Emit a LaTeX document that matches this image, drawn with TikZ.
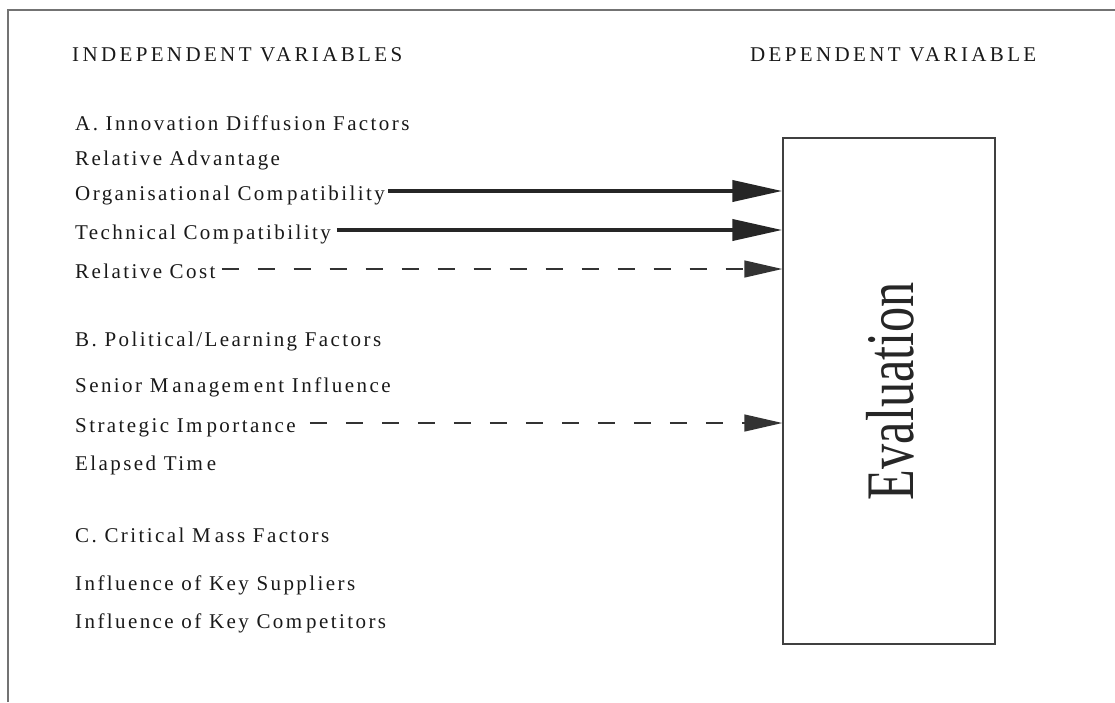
\documentclass[tikz,border=0pt]{standalone}
\usepackage{graphicx}
\usepackage{fontspec}
\setmainfont{Liberation Serif}
\newfontfamily\bodyfont[LetterSpace=11.5]{Liberation Serif}
\newfontfamily\headfont[LetterSpace=16]{Liberation Serif}
\usetikzlibrary{arrows.meta}
\newcommand{\gm}{\kern4pt}
\begin{document}
\begin{tikzpicture}[x=1pt,y=-1pt,
  lbl/.style={anchor=base west, inner sep=0pt, text=black!90,
    font=\bodyfont\fontsize{21}{25}\selectfont, text height=14pt, text depth=4pt},
  hdr/.style={anchor=base west, inner sep=0pt, text=black!90,
    font=\headfont\fontsize{21}{25}\selectfont},
  solidarr/.style={line width=4pt, draw=black!85, -{Triangle[length=50pt,width=21pt]}},
  dasharr/.style={line width=1.5pt, draw=black!80, dash pattern=on 17pt off 19pt,
    -{Triangle[length=38pt,width=17pt]}},
  frame/.style={draw=black!55, line width=1.2pt},
  evalbox/.style={draw=black!75, line width=1.5pt, inner sep=0pt,
    minimum width=212pt, minimum height=506pt}
]
\useasboundingbox (0,0) rectangle (1115,702);
\draw[frame] (8,702) -- (8,10) -- (1115,10);

\node[hdr] (hIndep) at (72,61) {INDEPENDENT VARIABLES};
\node[hdr] (hDep) at (750,61) {DEPENDENT VARIABLE};

\node[lbl] (a)   at (75,130) {A. Innovation Diffusion Factors};
\node[lbl] (ra)  at (75,165) {Relative Advantage};
\node[lbl] (oc)  at (75,200) {Organisational Com\gm patibility};
\node[lbl] (tc)  at (75,239) {Technical Com\gm patibility};
\node[lbl] (rc)  at (75,278) {Relative Cost};
\node[lbl] (b)   at (75,346) {B. Political/Learning Factors};
\node[lbl] (smi) at (75,392) {Senior M\gm anagem\gm ent Influence};
\node[lbl] (si)  at (75,432) {Strategic Im\gm portance};
\node[lbl] (et)  at (75,470) {Elapsed Tim\gm e};
\node[lbl] (c)   at (75,542) {C. Critical M\gm ass Factors};
\node[lbl] (ks)  at (75,590) {Influence of Key Suppliers};
\node[lbl] (kc)  at (75,628) {Influence of Key Com\gm petitors};

\node[evalbox] (box) at (889,391) {};
\node[rotate=90, inner sep=0pt, text=black!85] (evl) at (890,391)
  {\scalebox{0.74}[1]{\fontsize{68}{68}\selectfont Evaluation}};

\coordinate (s1) at ([xshift=3pt,yshift=4pt]oc.east);
\coordinate (s2) at ([xshift=6pt,yshift=4pt]tc.east);
\coordinate (s3) at ([xshift=6pt,yshift=4pt]rc.east);
\coordinate (s4) at ([xshift=14pt,yshift=4pt]si.east);
\draw[solidarr] (s1) -- (s1 -| box.west);
\draw[solidarr] (s2) -- (s2 -| box.west);
\draw[dasharr]  (s3) -- (s3 -| box.west);
\draw[dasharr]  (s4) -- (s4 -| box.west);
\end{tikzpicture}
\end{document}
